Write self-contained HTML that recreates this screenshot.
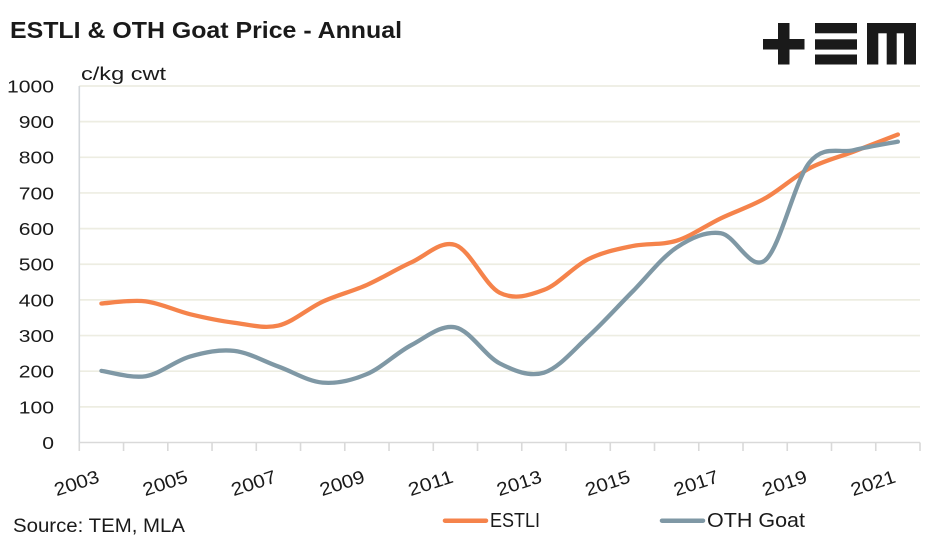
<!DOCTYPE html>
<html>
<head>
<meta charset="utf-8">
<style>
  html,body{margin:0;padding:0;background:#fff;}
  body{width:947px;height:543px;overflow:hidden;}
  svg{display:block;}
  text{font-family:"Liberation Sans",sans-serif;fill:#1a1a1a;}
</style>
</head>
<body>
<svg id="chart" width="947" height="543" viewBox="0 0 947 543" xmlns="http://www.w3.org/2000/svg">
  <rect x="0" y="0" width="947" height="543" fill="#fff"/>
  <!-- Title -->
  <text x="10" y="38" font-size="23.5" font-weight="bold" textLength="392" lengthAdjust="spacingAndGlyphs">ESTLI &amp; OTH Goat Price - Annual</text>

  <!-- Logo -->
  <g fill="#1a1a1a">
    <rect x="763" y="39" width="41.5" height="10.5"/>
    <rect x="778" y="23" width="11.5" height="41.5"/>
    <rect x="815" y="23" width="42" height="10.3"/>
    <rect x="815" y="39.3" width="42" height="10.3"/>
    <rect x="815" y="54.5" width="42" height="10"/>
    <rect x="867" y="23" width="49" height="10.3"/>
    <rect x="867" y="23" width="11.3" height="41.5"/>
    <rect x="886.7" y="23" width="10" height="41.5"/>
    <rect x="904" y="23" width="12" height="41.5"/>
  </g>

  <!-- unit label -->
  <text x="81" y="80" font-size="18" textLength="85" lengthAdjust="spacingAndGlyphs">c/kg cwt</text>

  <g id="grid"></g>
  <g id="ylabels"></g>
  <g id="xaxis"></g>
  <g id="series"></g>

  <!-- Legend -->
  <line x1="445" y1="520.7" x2="486" y2="520.7" stroke="#F5834B" stroke-width="4.5" stroke-linecap="round"/>
  <text x="490" y="527" font-size="20.5" textLength="50" lengthAdjust="spacingAndGlyphs">ESTLI</text>
  <line x1="662" y1="520.7" x2="703" y2="520.7" stroke="#7F98A5" stroke-width="4.5" stroke-linecap="round"/>
  <text x="707" y="527" font-size="20.5" textLength="98" lengthAdjust="spacingAndGlyphs">OTH Goat</text>

  <!-- Source -->
  <text x="13" y="532" font-size="19" textLength="172" lengthAdjust="spacingAndGlyphs">Source: TEM, MLA</text>
</svg>
<script>
(function(){
  var NS="http://www.w3.org/2000/svg";
  var left=79.3, right=920, y0=442.5, py=0.3565;
  var n=19, cw=(right-left)/n;
  function el(tag,attrs,parent,txt){
    var e=document.createElementNS(NS,tag);
    for(var k in attrs) e.setAttribute(k,attrs[k]);
    if(txt!==undefined) e.textContent=txt;
    parent.appendChild(e); return e;
  }
  var grid=document.getElementById('grid');
  var yl=document.getElementById('ylabels');
  for(var v=100; v<=1000; v+=100){
    var y=y0-v*py;
    el('line',{x1:left,y1:y,x2:right,y2:y,stroke:'#EDEDE2','stroke-width':1.7},grid);
  }
  el('line',{x1:left,y1:y0-1000*py,x2:left,y2:y0,stroke:'#D3D7DB','stroke-width':1.6},grid);
  for(var v=0; v<=1000; v+=100){
    var y=y0-v*py;
    var s=String(v);
    el('text',{x:54,y:y+6.4,'font-size':17.5,'text-anchor':'end',textLength:(s.length*11.75),lengthAdjust:'spacingAndGlyphs'},yl,s);
  }
  var xa=document.getElementById('xaxis');
  el('line',{x1:left,y1:y0,x2:right,y2:y0,stroke:'#D9D9D9','stroke-width':1.6},xa);
  for(var i=0;i<=n;i++){
    var x=left+i*cw;
    el('line',{x1:x,y1:y0,x2:x,y2:451,stroke:'#D9D9D9','stroke-width':1.6},xa);
  }
  for(var i=0;i<n;i+=2){
    var cx=left+cw*(i+0.5)-1;
    var yr=String(2003+i);
    el('text',{x:cx,y:482,'font-size':18.5,'text-anchor':'end',textLength:46,lengthAdjust:'spacingAndGlyphs',transform:'rotate(-18 '+cx+' 482)'},xa,yr);
  }
  var estli=[390,396,360,336,328,395,442,505,554,420,428,514,551,566,629,685,769,816,864];
  var oth=[201,186,241,257,213,168,192,273,323,222,196,297,423,547,587,511,785,820,844];
  function pts(d){return d.map(function(v,i){return [left+cw*(i+0.5), y0-v*py];});}
  function smooth(p){
    var s='M'+p[0][0].toFixed(2)+','+p[0][1].toFixed(2);
    for(var i=0;i<p.length-1;i++){
      var p0=p[i-1]||p[i], p1=p[i], p2=p[i+1], p3=p[i+2]||p[i+1];
      var c1=[p1[0]+(p2[0]-p0[0])/6, p1[1]+(p2[1]-p0[1])/6];
      var c2=[p2[0]-(p3[0]-p1[0])/6, p2[1]-(p3[1]-p1[1])/6];
      s+=' C'+c1[0].toFixed(2)+','+c1[1].toFixed(2)+' '+c2[0].toFixed(2)+','+c2[1].toFixed(2)+' '+p2[0].toFixed(2)+','+p2[1].toFixed(2);
    }
    return s;
  }
  var ser=document.getElementById('series');
  el('path',{d:smooth(pts(estli)),fill:'none',stroke:'#F5834B','stroke-width':4.3,'stroke-linecap':'round','stroke-linejoin':'round'},ser);
  el('path',{d:smooth(pts(oth)),fill:'none',stroke:'#7F98A5','stroke-width':4.3,'stroke-linecap':'round','stroke-linejoin':'round'},ser);
})();
</script>
</body>
</html>
